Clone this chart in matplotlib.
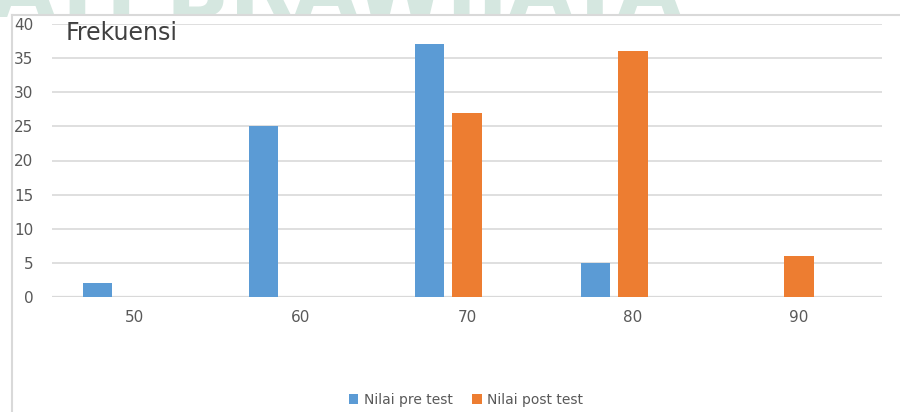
import numpy as np
import matplotlib.pyplot as plt
from matplotlib.lines import Line2D
from matplotlib.patches import Rectangle

plt.rcParams['font.family'] = ['DejaVu Sans']

categories = ['50', '60', '70', '80', '90']
pre_test = [2, 25, 37, 5, 0]
post_test = [0, 0, 27, 36, 6]
yticks = [0, 5, 10, 15, 20, 25, 30, 35, 40]

fig = plt.figure(figsize=(9, 4.12), dpi=100)

top = 1 - 15 / 412
left = 12 / 900

# faint watermark behind the chart, only its lower part shows above the frame
fig.text(-0.01, top - 0.004, 'ATI BRAWIJAYA', fontsize=60, fontweight='bold',
         color='#d5e7e0', ha='left', va='baseline', zorder=0)
fig.patches.append(Rectangle((left, 0), 1 - left, top, transform=fig.transFigure,
                             facecolor='white', edgecolor='none', zorder=0.5))

# chart frame: left and top edges only
fig.lines.append(Line2D([left, 1], [top, top], transform=fig.transFigure,
                        color='#d9d9d9', linewidth=1.5, zorder=1))
fig.lines.append(Line2D([left, left], [0, top], transform=fig.transFigure,
                        color='#d9d9d9', linewidth=1.5, zorder=1))

ax = fig.add_axes([52 / 900, 1 - 297 / 412, 830 / 900, 273 / 412], zorder=2)
ax.patch.set_alpha(0)

x = np.arange(len(categories))
w = 0.175
ax.bar(x - 0.225, pre_test, w, color='#5B9BD5', label='Nilai pre test', zorder=3)
ax.bar(x, post_test, w, color='#ED7D31', label='Nilai post test', zorder=3)

ax.set_xlim(-0.5, 4.5)
ax.set_ylim(0, 40)
ax.set_yticks(yticks)
ax.set_xticks(x)
ax.set_xticklabels(categories)
ax.yaxis.grid(True, color='#d9d9d9', linewidth=1.2, zorder=0)
ax.axhline(0, color='#d9d9d9', linewidth=1.6, zorder=2)
for s in ax.spines.values():
    s.set_visible(False)
ax.tick_params(axis='both', length=0, labelsize=11, colors='#595959')
ax.tick_params(axis='y', pad=13.5)
ax.tick_params(axis='x', pad=9)

ax.text(66 / 900, 1 - 33 / 412, 'Frekuensi', transform=fig.transFigure,
        fontsize=17, color='#404040', va='center', ha='left')

fig.legend(loc='center', bbox_to_anchor=(466 / 900, 1 - 400 / 412), ncol=2,
           frameon=False, fontsize=10, handlelength=0.7, handleheight=0.7,
           columnspacing=1.4, handletextpad=0.4, labelcolor='#595959')

fig.savefig('out.png', dpi=100)
